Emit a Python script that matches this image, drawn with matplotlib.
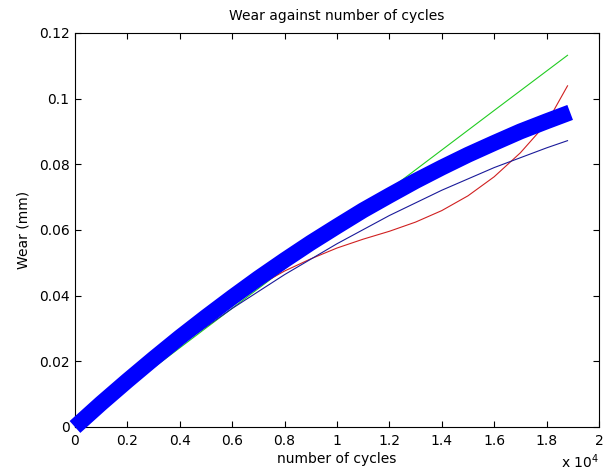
import numpy as np
import matplotlib
matplotlib.use("Agg")
import matplotlib.pyplot as plt

plt.rcParams['font.family'] = ['DejaVu Sans']

# number of cycles and wear (mm)
cycles = [0, 1000, 2000, 3000, 4000, 5000, 6000, 7000, 8000, 9000, 10000,
          11000, 12000, 13000, 14000, 15000, 16000, 17000, 18000, 18900]
wear_thick = [0, 0.0072, 0.0141, 0.0208, 0.0273, 0.0335, 0.0395, 0.0453,
              0.0508, 0.0561, 0.0611, 0.0660, 0.0705, 0.0749, 0.0790,
              0.0829, 0.0865, 0.0900, 0.0931, 0.0958]

cycles_green = [0, 4000, 8000, 12000, 16000, 18800]
wear_green = [0, 0.0241, 0.0482, 0.0723, 0.0964, 0.1132]

cycles_red = [0, 2000, 4000, 6000, 7000, 8000, 9000, 10000, 11000, 12000,
              13000, 14000, 15000, 16000, 17000, 18000, 18800]
wear_red = [0.003, 0.0135, 0.0265, 0.0380, 0.0430, 0.0475, 0.0512, 0.0545,
            0.0572, 0.0596, 0.0624, 0.0659, 0.0704, 0.0762, 0.0835, 0.0925,
            0.1039]

cycles_navy = [0, 2000, 4000, 6000, 8000, 10000, 12000, 14000, 16000,
               18000, 18800]
wear_navy = [0, 0.0129, 0.0249, 0.0361, 0.0464, 0.0558, 0.0644, 0.0721,
             0.0790, 0.0850, 0.0872]

xticks = [0, 2000, 4000, 6000, 8000, 10000, 12000, 14000, 16000, 18000, 20000]
xticklabels = ['0', '0.2', '0.4', '0.6', '0.8', '1', '1.2', '1.4', '1.6', '1.8', '2']
yticks = [0, 0.02, 0.04, 0.06, 0.08, 0.1, 0.12]
yticklabels = ['0', '0.02', '0.04', '0.06', '0.08', '0.1', '0.12']

fig = plt.figure(figsize=(6.12, 4.75), dpi=100)
ax = fig.add_axes([0.1225, 0.1011, 0.8562, 0.8295])

ax.plot(cycles_green, wear_green, color='#22cc22', lw=0.8, zorder=2)
ax.plot(cycles_red, wear_red, color='#d02020', lw=0.8, zorder=2)
ax.plot(cycles_navy, wear_navy, color='#1a1a9a', lw=0.8, zorder=2)
ax.plot(cycles, wear_thick, color='#0000ff', lw=11.5, solid_capstyle='butt',
        solid_joinstyle='round', zorder=3, clip_on=False)

ax.set_xlim(0, 20000)
ax.set_ylim(0, 0.12)
ax.set_xticks(xticks)
ax.set_xticklabels(xticklabels)
ax.set_yticks(yticks)
ax.set_yticklabels(yticklabels)
ax.tick_params(direction='in', length=4, width=0.8, top=True, right=True,
               labelsize=10)
ax.tick_params(axis='x', pad=5)
ax.tick_params(axis='y', pad=4)
for s in ax.spines.values():
    s.set_linewidth(0.8)

ax.set_title('Wear against number of cycles', fontsize=10, pad=9)
ax.set_xlabel('number of cycles', fontsize=10, labelpad=3)
ax.set_ylabel('Wear (mm)', fontsize=10, labelpad=6)
fig.text(0.948, 0.008, 'x 10$^{4}$', fontsize=10, ha='center', va='bottom')

fig.savefig('out.png', dpi=100)
